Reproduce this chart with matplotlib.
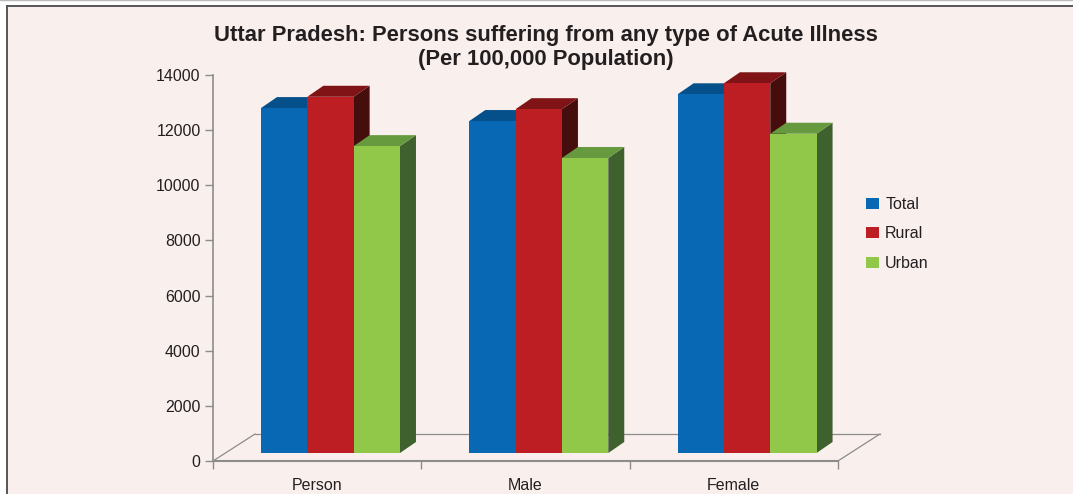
import matplotlib
matplotlib.use('Agg')
import matplotlib.pyplot as plt
from matplotlib.patches import Polygon, Rectangle, Patch
from matplotlib.lines import Line2D
from matplotlib import font_manager

categories = ['Person', 'Male', 'Female']
series = ['Total', 'Rural', 'Urban']
total = [12800, 12330, 13300]
rural = [13210, 12760, 13700]
urban = [11420, 10990, 11870]
yticks = [0, 2000, 4000, 6000, 8000, 10000, 12000, 14000]

front_colors = ['#0868B3', '#BD1E24', '#92C84A']
top_colors = ['#05508A', '#7F1315', '#679A3E']
side_colors = ['#043F6E', '#460D0D', '#3F612E']

names = {f.name for f in font_manager.fontManager.ttflist}
title_font = 'Liberation Sans Narrow' if 'Liberation Sans Narrow' in names else 'Liberation Sans'
title_size = 16 if title_font == 'Liberation Sans Narrow' else 15.8
plt.rcParams['font.family'] = ['Liberation Sans', 'DejaVu Sans']

W, H = 1073, 494
fig = plt.figure(figsize=(W / 100, H / 100), dpi=100, facecolor='white')

# pink panel + frame
fig.add_artist(Rectangle((7 / W, 0), 1, 1 - 7 / H, transform=fig.transFigure,
                         facecolor='#F9F0EE', edgecolor='none', zorder=0))
fig.add_artist(Line2D([0, 1], [1 - 0.5 / H] * 2, transform=fig.transFigure, color='#BBBBBB', lw=1))
fig.add_artist(Line2D([6.5 / W, 1], [1 - 6.5 / H] * 2, transform=fig.transFigure, color='#555555', lw=1.4))
fig.add_artist(Line2D([6.5 / W] * 2, [0, 1 - 6.5 / H], transform=fig.transFigure, color='#555555', lw=1.4))

ax = fig.add_axes([213 / W, 33 / H, 667 / W, 386 / H])
ax.set_facecolor('none')
ax.set_xlim(-0.5, -0.5 + 667 / 208.3)
ax.set_ylim(0, 14000)

axis_gray = '#8C8C8C'
for s in ['top', 'right', 'bottom']:
    ax.spines[s].set_visible(False)
ax.spines['left'].set_color(axis_gray)
ax.spines['left'].set_linewidth(1.2)

# 3D floor
n = len(categories)
fdx, fdy = 0.2016, 979
ax.plot([-0.5, n - 0.5], [0, 0], color=axis_gray, lw=1.5, clip_on=False, zorder=1)
ax.plot([-0.5 + fdx, n - 0.5 + fdx], [fdy, fdy], color=axis_gray, lw=0.9, clip_on=False, zorder=1)
ax.plot([-0.5, -0.5 + fdx], [0, fdy], color=axis_gray, lw=0.9, clip_on=False, zorder=1)
ax.plot([n - 0.5, n - 0.5 + fdx], [0, fdy], color=axis_gray, lw=0.9, clip_on=False, zorder=1)

# 3D bars
bw = 0.2224
dx, dy = 0.0768, 399
base = 290
shift = 0.064
values = [total, rural, urban]
for g in range(n):
    for s in range(len(series)):
        v = values[s][g]
        left = g + shift - 1.5 * bw + s * bw
        z = 2 + s * 3
        side = Polygon([(left + bw, base), (left + bw + dx, base + dy),
                        (left + bw + dx, v + dy), (left + bw, v)],
                       closed=True, facecolor=side_colors[s], edgecolor='none',
                       clip_on=False, zorder=z)
        top = Polygon([(left, v), (left + bw, v), (left + bw + dx, v + dy), (left + dx, v + dy)],
                      closed=True, facecolor=top_colors[s], edgecolor='none',
                      clip_on=False, zorder=z + 1)
        ax.add_patch(side)
        ax.add_patch(top)
        ax.bar(left, v - base, bottom=base, width=bw, align='edge',
               color=front_colors[s], linewidth=0, zorder=z + 2, clip_on=False)

ax.set_yticks(yticks)
ax.set_yticklabels([str(t) for t in yticks])
ax.tick_params(axis='y', length=6, width=1, color=axis_gray, pad=3,
               labelsize=11.5, labelcolor='#231F20')

ax.set_xticks(range(n))
ax.set_xticklabels(categories)
ax.set_xticks([i - 0.5 for i in range(n + 1)], minor=True)
ax.tick_params(axis='x', which='major', length=0, pad=12.5, labelsize=11.5, labelcolor='#231F20')
ax.tick_params(axis='x', which='minor', length=6, width=1, color=axis_gray)

handles = [Patch(facecolor=c, edgecolor='none') for c in front_colors]
fig.legend(handles, series, loc='upper left', bbox_to_anchor=(866 / W, 1 - 197 / H),
           frameon=False, fontsize=11.5, handlelength=0.8, handleheight=0.7,
           handletextpad=0.4, labelspacing=0.9, borderpad=0, borderaxespad=0,
           labelcolor='#231F20')

fig.text(545.5 / W, 1 - 41 / H, 'Uttar Pradesh: Persons suffering from any type of Acute Illness',
         ha='center', va='baseline', fontsize=title_size, fontweight='bold', family=title_font,
         color='#231F20')
fig.text(545.5 / W, 1 - 65 / H, '(Per 100,000 Population)',
         ha='center', va='baseline', fontsize=title_size, fontweight='bold', family=title_font,
         color='#231F20')

fig.savefig('out.png', dpi=100, facecolor=fig.get_facecolor())
